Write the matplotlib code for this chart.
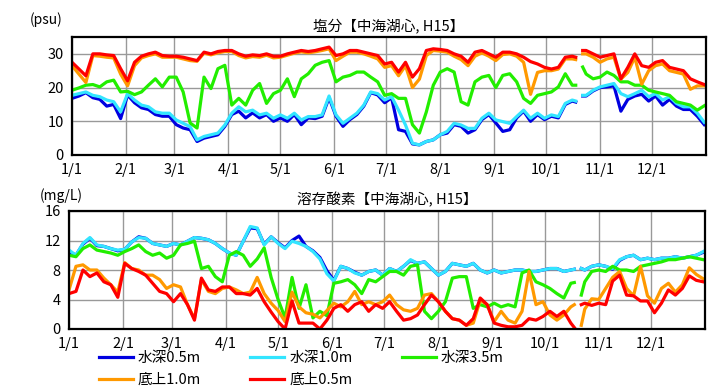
import numpy as np
import matplotlib
matplotlib.use("Agg")
import matplotlib.pyplot as plt

plt.rcParams['font.family'] = ['Noto Sans CJK JP', 'DejaVu Sans']

nan = float('nan')

# day-of-year sample points (every 4 days, with a data gap in late October)
days = list(range(0, 289, 4)) + [290, 292, 294] + list(range(296, 365, 4))

month_ticks = [0, 31, 59, 90, 120, 151, 181, 212, 243, 273, 304, 334]
month_labels = ['1/1', '2/1', '3/1', '4/1', '5/1', '6/1', '7/1', '8/1', '9/1', '10/1', '11/1', '12/1']

series_names = ['水深0.5m', '水深1.0m', '水深3.5m', '底上1.0m', '底上0.5m']
series_colors = ['#0000E0', '#33E5FF', '#22EE00', '#FF9900', '#FF0000']

# ---------------- Salinity (psu) ----------------
sal_w05 = [16.8, 17.5, 18.5, 17.0, 16.5, 14.5, 15.0, 10.8, 17.8, 15.5,
           14.0, 13.5, 12.0, 11.5, 11.5, 9.0, 8.0, 7.5, 4.0, 5.0,
           5.5, 6.0, 8.5, 12.0, 13.0, 11.0, 12.5, 11.0, 12.0, 10.0,
           11.0, 10.0, 12.0, 9.0, 11.0, 10.8, 11.5, 17.0, 11.5, 8.5,
           10.5, 12.0, 14.5, 18.5, 17.8, 15.5, 17.0, 7.5, 7.0, 3.3,
           3.0, 4.0, 4.5, 6.0, 6.5, 9.0, 8.5, 6.5, 7.5, 10.5,
           12.0, 9.5, 7.0, 7.5, 11.0, 13.0, 10.0, 12.0, 10.5, 11.5,
           11.0, 15.0, 16.0] + [15.7, nan, 17.5] + \
          [17.5, 19.0, 20.0, 20.2, 20.5, 13.0, 16.5, 17.5, 18.0, 16.0,
           17.5, 14.8, 16.5, 14.5, 13.5, 13.5, 11.5, 9.0]
sal_w10 = [17.7, 18.2, 18.7, 17.7, 17.3, 16.3, 15.8, 12.8, 18.2, 16.3,
           14.8, 14.3, 12.8, 12.4, 12.4, 10.4, 9.4, 8.4, 4.5, 5.5,
           6.0, 6.5, 8.9, 12.4, 14.3, 12.8, 13.3, 11.9, 12.4, 10.9,
           11.9, 10.9, 12.4, 10.4, 11.4, 11.4, 11.9, 17.5, 11.9, 9.4,
           10.9, 12.4, 14.8, 18.7, 18.2, 16.3, 17.3, 13.3, 8.9, 3.5,
           3.0, 4.0, 4.5, 6.0, 7.0, 9.4, 8.9, 7.9, 7.9, 10.9,
           12.4, 10.4, 9.9, 9.4, 11.4, 13.3, 10.9, 12.4, 10.9, 11.9,
           11.4, 15.3, 16.3] + [16.0, nan, 17.7] + \
          [17.7, 19.2, 20.2, 20.7, 21.2, 18.2, 17.3, 18.2, 19.2, 17.3,
           18.2, 16.3, 17.3, 15.3, 14.3, 14.3, 12.4, 9.7]
sal_w35 = [19.2, 19.9, 20.7, 20.9, 20.2, 21.7, 22.2, 18.7, 18.9, 17.9,
           18.7, 20.7, 22.6, 20.2, 23.1, 23.1, 18.7, 9.5, 8.0, 23.1,
           19.7, 25.6, 26.6, 14.8, 16.8, 14.8, 19.2, 21.2, 15.3, 18.2,
           19.2, 22.6, 17.3, 22.6, 24.1, 26.6, 27.5, 28.0, 21.7, 23.1,
           23.6, 24.6, 24.6, 23.1, 21.7, 17.7, 18.2, 16.8, 16.8, 9.0,
           6.5, 12.8, 20.7, 24.6, 25.6, 24.6, 15.8, 14.8, 21.7, 23.1,
           23.6, 20.0, 23.6, 24.1, 21.7, 16.8, 15.3, 17.7, 18.2, 18.7,
           20.2, 24.1, 20.7] + [20.7, nan, 26.1] + \
          [24.0, 22.6, 23.1, 24.6, 23.6, 21.7, 21.7, 20.7, 20.7, 19.2,
           18.7, 18.2, 17.7, 15.8, 15.3, 14.8, 13.3, 14.6]
sal_b10 = [26.5, 24.0, 21.5, 29.5, 29.3, 29.0, 28.8, 24.0, 20.5, 26.5,
           28.8, 29.5, 30.0, 29.0, 29.0, 29.0, 28.5, 28.0, 27.8, 30.2,
           29.7, 30.3, 30.7, 30.7, 29.5, 28.8, 29.2, 29.0, 29.6, 28.8,
           29.0, 29.6, 30.2, 30.6, 30.3, 30.6, 31.0, 31.5, 28.0, 29.3,
           30.5, 30.5, 30.0, 29.3, 28.5, 26.0, 26.5, 23.5, 26.5, 20.0,
           22.5, 29.5, 31.0, 30.8, 30.5, 29.3, 28.3, 26.5, 29.3, 30.3,
           29.3, 28.0, 29.8, 30.0, 29.3, 27.5, 18.0, 24.5, 25.0, 25.0,
           25.5, 28.5, 28.5] + [28.3, nan, 30.0] + \
          [30.0, 29.0, 27.5, 28.5, 29.0, 22.5, 24.5, 29.0, 21.0, 25.0,
           26.5, 27.0, 25.0, 24.5, 24.0, 19.5, 20.5, 20.5]
sal_b05 = [27.5, 25.5, 23.5, 30.0, 30.0, 29.7, 29.5, 25.6, 22.0, 27.5,
           29.3, 30.0, 30.5, 29.5, 29.3, 29.3, 29.0, 28.5, 28.0, 30.5,
           30.0, 30.7, 31.0, 31.0, 30.0, 29.3, 29.7, 29.5, 30.0, 29.3,
           29.3, 30.0, 30.5, 31.0, 30.7, 31.0, 31.5, 32.0, 29.5, 30.0,
           31.0, 31.0, 30.5, 30.0, 29.5, 27.0, 27.5, 24.6, 27.5, 23.1,
           25.6, 31.0, 31.5, 31.3, 31.0, 30.0, 29.3, 27.5, 30.5, 31.0,
           30.0, 29.0, 30.5, 30.5, 30.0, 29.0, 27.7, 27.0, 26.0, 25.5,
           26.0, 29.0, 29.3] + [29.0, nan, 31.0] + \
          [31.0, 30.0, 29.0, 29.5, 30.0, 22.6, 26.0, 30.0, 26.5, 26.0,
           27.5, 28.0, 26.0, 25.5, 25.0, 22.6, 21.7, 20.9]

# ---------------- Dissolved oxygen (mg/L) ----------------
do_w05 = [10.5, 10.0, 11.5, 12.3, 11.3, 11.2, 10.9, 10.6, 10.8, 11.8,
          12.5, 12.3, 11.6, 11.4, 11.2, 11.6, 11.4, 11.9, 12.4, 12.3,
          12.1, 11.6, 10.9, 10.3, 10.0, 11.9, 13.7, 13.6, 11.5, 12.5,
          11.7, 11.0, 12.0, 12.6, 11.2, 10.6, 9.7, 7.9, 6.6, 8.5,
          8.2, 7.7, 7.3, 7.8, 8.0, 7.3, 8.2, 7.8, 8.5, 9.3,
          8.9, 9.1, 8.2, 7.3, 7.8, 8.9, 8.7, 8.5, 8.9, 8.0,
          7.6, 8.0, 7.6, 7.8, 8.0, 8.0, 7.8, 7.8, 8.0, 8.2,
          8.2, 7.8, 8.0] + [8.1, nan, 8.2] + \
         [8.0, 8.5, 8.7, 8.5, 8.1, 9.3, 9.8, 10.0, 9.4, 9.6,
          9.4, 9.6, 9.6, 9.8, 9.6, 9.8, 10.0, 10.4]
do_w10 = [10.7, 10.0, 11.6, 12.4, 11.4, 11.2, 10.9, 10.7, 10.8, 11.8,
          12.4, 12.3, 11.6, 11.4, 11.2, 11.6, 11.4, 11.9, 12.4, 12.3,
          12.1, 11.6, 10.9, 10.3, 10.0, 11.9, 13.9, 13.7, 11.4, 12.5,
          11.6, 10.9, 11.9, 11.6, 11.2, 10.5, 9.5, 7.5, 6.5, 8.5,
          8.2, 7.6, 7.3, 7.8, 8.0, 7.3, 8.2, 7.8, 8.5, 9.4,
          8.9, 9.1, 8.2, 7.3, 7.8, 8.9, 8.7, 8.5, 8.9, 8.0,
          7.6, 8.0, 7.6, 7.8, 8.0, 8.0, 7.8, 7.8, 8.0, 8.2,
          8.2, 7.8, 8.0] + [8.1, nan, 8.2] + \
         [8.0, 8.5, 8.7, 8.5, 8.2, 9.4, 9.8, 10.0, 9.4, 9.6,
          9.4, 9.6, 9.6, 9.8, 9.6, 9.8, 10.0, 10.5]
do_w35 = [10.0, 9.8, 10.9, 11.4, 10.7, 10.5, 10.3, 10.0, 10.5, 10.9,
          11.4, 10.5, 10.0, 10.3, 9.6, 10.0, 11.4, 11.6, 11.9, 8.2,
          8.5, 7.1, 6.4, 10.0, 10.5, 10.0, 8.5, 9.5, 11.0, 7.0,
          4.0, 1.5, 7.0, 2.8, 6.0, 1.5, 2.4, 1.8, 6.2, 6.4,
          6.7, 6.0, 4.8, 6.7, 6.4, 7.1, 7.8, 7.8, 7.3, 8.5,
          8.7, 2.4, 1.4, 2.4, 3.7, 6.9, 7.1, 7.1, 2.8, 3.3,
          3.0, 3.5, 3.0, 3.3, 3.0, 7.6, 8.0, 6.4, 6.0, 5.5,
          4.8, 4.2, 6.2] + [6.3, nan, 4.6] + \
         [6.4, 7.8, 8.0, 7.8, 8.5, 8.0, 8.0, 7.8, 8.5, 8.7,
          8.9, 9.1, 9.4, 9.4, 9.6, 9.8, 9.6, 9.4]
do_b10 = [5.3, 8.5, 8.7, 8.0, 8.0, 6.9, 6.0, 5.0, 9.0, 8.2,
          8.0, 7.3, 7.3, 6.7, 5.5, 6.0, 5.7, 3.3, 1.4, 6.7,
          5.1, 4.8, 5.5, 5.7, 5.3, 4.8, 5.0, 7.0, 4.8, 3.5,
          2.5, 1.0, 5.0, 3.0, 2.2, 2.0, 1.5, 2.5, 3.5, 3.0,
          3.7, 5.1, 3.3, 3.7, 3.3, 3.7, 4.6, 3.3, 2.6, 2.4,
          2.8, 4.6, 4.8, 3.7, 2.4, 1.4, 1.2, 0.5, 0.8, 3.9,
          3.3, 1.0, 2.4, 1.2, 0.8, 2.4, 7.8, 3.3, 3.7, 1.9,
          1.2, 1.9, 3.0] + [3.3, nan, 0.5] + \
         [2.7, 4.1, 4.0, 5.5, 7.0, 7.8, 5.5, 4.5, 8.5, 4.5,
          3.5, 5.5, 6.2, 5.0, 6.0, 8.3, 7.4, 6.8]
do_b05 = [4.8, 5.1, 8.0, 7.1, 7.6, 6.4, 6.0, 4.3, 8.9, 8.2,
          7.8, 7.3, 6.2, 5.1, 4.8, 3.7, 4.8, 3.3, 1.2, 6.9,
          5.3, 5.1, 5.7, 5.7, 4.8, 4.8, 4.6, 5.5, 3.7, 2.3,
          1.0, 0.0, 3.8, 0.8, 0.8, 0.8, 0.0, 1.2, 2.8, 3.3,
          2.4, 3.3, 3.7, 2.4, 3.3, 2.8, 3.7, 2.4, 1.2, 1.4,
          1.9, 3.3, 4.6, 3.7, 2.4, 1.4, 1.2, 0.5, 1.4, 4.2,
          3.3, 0.8, 0.5, 0.3, 0.3, 0.5, 1.4, 1.2, 1.7, 2.4,
          1.7, 2.4, 0.8] + [0.2, nan, 3.3] + \
         [3.5, 3.2, 3.5, 3.3, 6.5, 7.3, 4.6, 4.5, 3.8, 3.8,
          2.2, 3.5, 5.3, 4.6, 5.5, 7.2, 6.6, 6.4]

sal_series = [sal_w05, sal_w10, sal_w35, sal_b10, sal_b05]
do_series = [do_w05, do_w10, do_w35, do_b10, do_b05]
for s in sal_series + do_series:
    assert len(s) == len(days), (len(s), len(days))

fig = plt.figure(figsize=(7.25, 3.92), dpi=100)
ax1 = fig.add_axes([72/725, 1-155/392, 634/725, 118/392])
ax2 = fig.add_axes([69/725, 1-329/392, 636/725, 118/392])

def style(ax, ylim, yticks):
    ax.set_xlim(0, 365)
    ax.set_ylim(*ylim)
    ax.set_yticks(yticks)
    ax.set_xticks(month_ticks)
    ax.set_xticklabels(month_labels)
    ax.grid(True, color='#999999', linewidth=1.0)
    ax.set_axisbelow(True)
    ax.tick_params(length=0, labelsize=10.5, pad=6, colors='black')
    for sp in ax.spines.values():
        sp.set_linewidth(1.6)
        sp.set_color('black')

handles = []
for ax, data in ((ax1, sal_series), (ax2, do_series)):
    hs = []
    for vals, name, col in zip(data, series_names, series_colors):
        h, = ax.plot(days, vals, color=col, lw=2.3, label=name, solid_joinstyle='round')
        hs.append(h)
    handles = hs

style(ax1, (0, 35), [0, 10, 20, 30])
style(ax2, (0, 16), [0, 4, 8, 12, 16])

ax1.set_title('塩分【中海湖心, H15】', fontsize=10.5, pad=5)
ax2.set_title('溶存酸素【中海湖心, H15】', fontsize=10.5, pad=5)
fig.text(30/725, 1-20/392, '(psu)', fontsize=10, va='center', ha='left')
fig.text(40/725, 1-196/392, '(mg/L)', fontsize=10, va='center', ha='left')

order = [0, 3, 1, 4, 2]
fig.legend([handles[i] for i in order], [series_names[i] for i in order],
           ncol=3, loc='upper left', bbox_to_anchor=(99/725, 1-351/392),
           frameon=False, fontsize=10.5, handlelength=2.3, handletextpad=0.35,
           columnspacing=3.4, labelspacing=0.55, borderaxespad=0, borderpad=0)

fig.savefig('out.png', dpi=100)
